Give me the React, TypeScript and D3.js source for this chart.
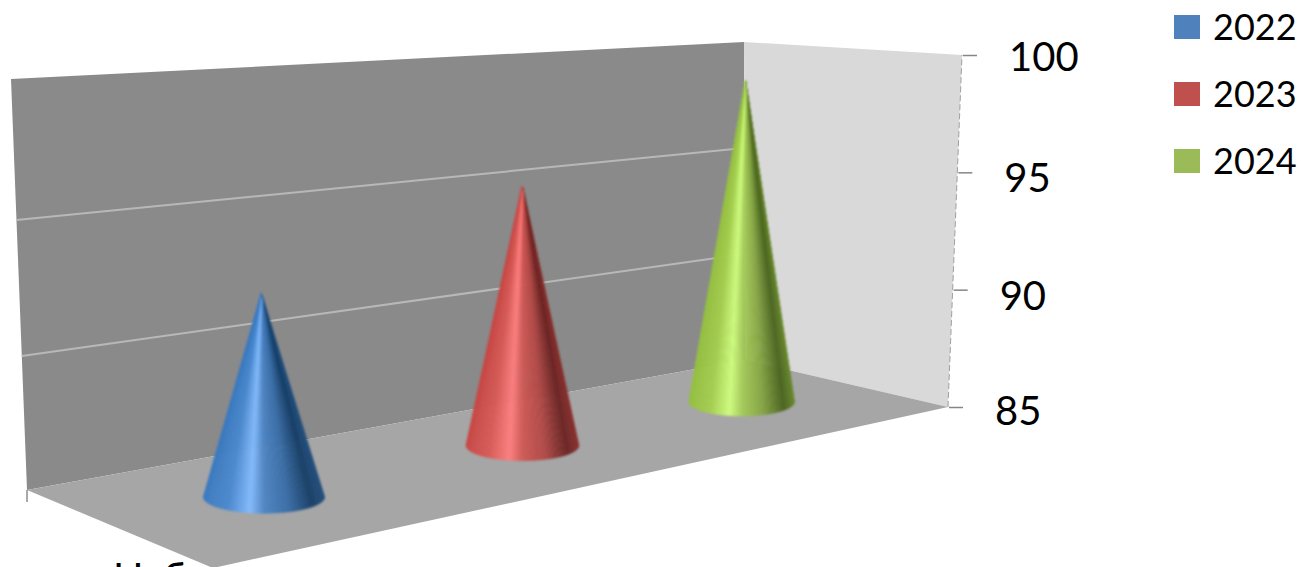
import React from "react";
import * as d3 from "d3";

const years = ["2022", "2023", "2024"];
const values = [92.5, 95.4, 98.9];
const legendColors = ["#4f81bd", "#c0504d", "#9bbb59"];
const ticks = [85, 90, 95, 100];
const tickLabelDy = [18, 20, 20, 16];
const category = "Набор";

const shadeStops = [0, 0.2, 0.38, 0.5, 0.7, 0.9, 1];
const blueShades = ["#3e7cc0", "#4b8ad0", "#84bcff", "#4f86c4", "#3a6ea8", "#173e66", "#24507f"];
const redShades = ["#c84a48", "#d95c58", "#ff8080", "#cf5a56", "#b24a48", "#6b2524", "#8b3331"];
const greenShades = ["#96c044", "#a6d050", "#d0ff80", "#a6cc5a", "#86a644", "#4a6420", "#6a8a30"];
const shades = [blueShades, redShades, greenShades];

type Pt = [number, number];

// box corners of the 3d plot as they land on the page
const backLeft: Pt = [27, 490];
const backRight: Pt = [745, 360];
const frontRight: Pt = [948, 407];
const frontLeft: Pt = [213, 568];
const upBackLeft: Pt = [-16, -411];
const upBackRight: Pt = [-1, -318];
const upFrontRight: Pt = [14, -352];
const upFrontLeft: Pt = [0, -440];

const mix = (a: Pt, b: Pt, t: number): Pt => [a[0] + (b[0] - a[0]) * t, a[1] + (b[1] - a[1]) * t];
const bilerp = (bl: Pt, br: Pt, fr: Pt, fl: Pt, u: number, d: number) =>
  mix(mix(bl, br, u), mix(fl, fr, u), d);

const valueScale = d3.scaleLinear().domain([85, 100]).range([0, 1]);
// back wall gridlines sit a touch lower at the near end
const gridScaleLeft = d3.scaleLinear().domain(ticks).range([0, 0.326, 0.657, 1]);
// foreshortened category positions along the floor
const depthScale = d3.scaleOrdinal<string, number>().domain(years).range([0.206, 0.562, 0.864]);
const radiusScale = d3.scaleLinear().domain([0, 1]).range([63, 51]);
const coneDepth = 0.47;

const project = (u: number, d: number, value: number, v = valueScale(value)): Pt => {
  const base = bilerp(backLeft, backRight, frontRight, frontLeft, u, d);
  const up = bilerp(upBackLeft, upBackRight, upFrontRight, upFrontLeft, u, d);
  return [base[0] + up[0] * v, base[1] + up[1] * v];
};

const poly = (pts: Pt[]) => d3.line()(pts) + "Z";

const Cone = ({ year, value, stops }: { year: string; value: number; stops: string[] }) => {
  const u = depthScale(year);
  const [cx, cy] = project(u, coneDepth, 85);
  const tip = project(u, coneDepth, value);
  const rx = radiusScale(u);
  const ry = rx * 0.27;
  const color = d3.scaleLinear<string>().domain(shadeStops).range(stops).interpolate(d3.interpolateRgb);
  const n = 120;
  const angle = (i: number) => Math.PI - (i / n) * Math.PI;
  const at = (i: number): Pt => [cx + rx * Math.cos(angle(i)), cy + ry * Math.sin(angle(i))];
  // painted right to left so the dark side does not sit on top at the apex
  const slices = d3.range(n).reverse();
  return (
    <g filter="url(#soft)">
      {slices.map((i) => {
        const shade = color((Math.cos(angle(i + 0.5)) + 1) / 2);
        return (
          <path key={i} d={poly([tip, at(i), at(i + 1)])} fill={shade} stroke={shade} strokeWidth={0.5} />
        );
      })}
    </g>
  );
};

export default function App() {
  const topLeft = project(0, 0, 100);
  const topRight = project(1, 0, 100);
  const frontTop = project(1, 1, 100);
  return (
    <svg
      width={1304}
      height={567}
      style={{ position: "absolute", left: 0, top: 0, background: "#fff", fontFamily: "Lato" }}
    >
      <defs>
        <filter id="soft" x="-10%" y="-5%" width="120%" height="110%">
          <feGaussianBlur stdDeviation={0.8} />
        </filter>
      </defs>
      <path d={poly([topLeft, topRight, backRight, backLeft])} fill="#8a8a8a" />
      <path d={poly([topRight, frontTop, frontRight, backRight])} fill="#d9d9d9" />
      <path d={poly([backLeft, backRight, frontRight, frontLeft])} fill="#a6a6a6" />
      {ticks
        .filter((t) => t > 85 && t < 100)
        .map((t) => (
          <path
            key={t}
            d={d3.line()([project(0, 0, t, gridScaleLeft(t)), project(1, 0, t)]) as string}
            stroke="#b8b8b8"
            strokeWidth={2}
            fill="none"
          />
        ))}
      <path d={d3.line()([frontRight, frontTop]) as string} stroke="#a0a0a0" strokeDasharray="6 3" fill="none" />
      <path d={`M${backLeft[0]},${backLeft[1]}v12`} stroke="#8c8c8c" strokeWidth={1.5} fill="none" />
      {years.map((y, i) => (
        <Cone key={y} year={y} value={values[i]} stops={shades[i]} />
      ))}
      {ticks.map((t, i) => {
        const [x, y] = project(1, 1, t);
        return (
          <g key={t}>
            <path d={`M${x + 1},${y + 0.5}h14`} stroke="#868686" strokeWidth={1.5} fill="none" />
            <text x={x + 47} y={y + tickLabelDy[i]} fontSize={40} fill="#000">
              {t}
            </text>
          </g>
        );
      })}
      {years.map((y, i) => (
        <g key={y} transform={`translate(1174,${15 + i * 67})`}>
          <rect width={26} height={24} fill={legendColors[i]} />
          <text x={39} y={25} fontSize={36} fill="#000">
            {y}
          </text>
        </g>
      ))}
      <text x={113} y={592} fontSize={40} fill="#000">
        {category}
      </text>
    </svg>
  );
}
